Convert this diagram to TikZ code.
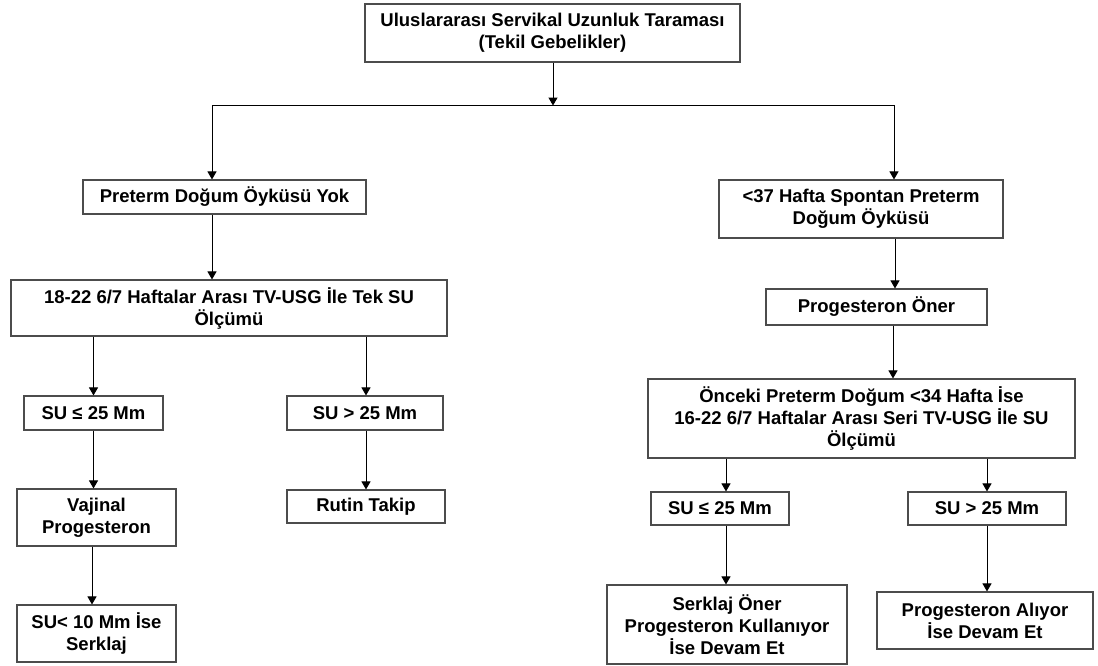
\documentclass[tikz,border=0pt]{standalone}
\usepackage{fontspec}
\setmainfont{Liberation Sans}
\usetikzlibrary{arrows.meta,calc}
\tikzset{
  box/.style={draw=black!70, line width=1.1pt, fill=white, rectangle, inner sep=0pt,
    align=center, font=\bfseries\fontsize{18.5}{22}\selectfont, text=black},
  arr/.style={draw=black, line width=1pt, -{Triangle[length=8pt,width=9pt]}},
  ln/.style={draw=black, line width=1pt}
}
\begin{document}
\begin{tikzpicture}[x=1pt,y=-1pt]
\useasboundingbox (0,0) rectangle (1098,666);
% nodes
\node[box, minimum width=375pt, minimum height=58pt] (top) at (552.5,33) {Uluslararası Servikal Uzunluk Taraması\\(Tekil Gebelikler)};
\node[box, minimum width=283pt, minimum height=34pt] (no) at (224.5,197) {Preterm Doğum Öyküsü Yok};
\node[box, minimum width=436pt, minimum height=56pt] (m1) at (229,308) {18-22 6/7 Haftalar Arası TV-USG İle Tek SU\\Ölçümü};
\node[box, minimum width=139pt, minimum height=34pt] (le1) at (93.5,413) {SU ≤ 25 Mm};
\node[box, minimum width=156pt, minimum height=34pt] (gt1) at (365,413) {SU > 25 Mm};
\node[box, minimum width=159pt, minimum height=57pt] (vaj) at (96.5,517.5) {Vajinal\\Progesteron};
\node[box, minimum width=159pt, minimum height=57pt] (ser1) at (96.5,633.5) {SU< 10 Mm İse\\Serklaj};
\node[box, minimum width=158pt, minimum height=33pt] (rutin) at (366,506.5) {Rutin Takip};
\node[box, minimum width=284pt, minimum height=58pt] (hist) at (861,209) {<37 Hafta Spontan Preterm\\Doğum Öyküsü};
\node[box, minimum width=221pt, minimum height=36pt] (prog) at (876.5,307) {Progesteron Öner};
\node[box, minimum width=427pt, minimum height=79pt] (big) at (861.5,418.5) {Önceki Preterm Doğum <34 Hafta İse\\16-22 6/7 Haftalar Arası Seri TV-USG İle SU\\Ölçümü};
\node[box, minimum width=138pt, minimum height=33pt] (le2) at (720,508.5) {SU ≤ 25 Mm};
\node[box, minimum width=158pt, minimum height=33pt] (gt2) at (987,508.5) {SU > 25 Mm};
\node[box, minimum width=240pt, minimum height=79pt] (serk2) at (727,624.5) {Serklaj Öner\\Progesteron Kullanıyor\\İse Devam Et};
\node[box, minimum width=216pt, minimum height=57pt] (palr) at (985,620.5) {Progesteron Alıyor\\İse Devam Et};
% connectors
\coordinate (split) at ($(top.south)+(0.5,43)$);
\draw[arr] ([xshift=0.5pt]top.south) -- (split);
\draw[arr] (split) -| ([xshift=-12.5pt]no.north);
\draw[arr] (split) -| ([xshift=33pt]hist.north);
\draw[arr] ([xshift=-12.5pt]no.south) -- ([xshift=-12.5pt]no.south |- m1.north);
\draw[arr] (le1.north |- m1.south) -- (le1.north);
\draw[arr] ([xshift=1pt]gt1.north |- m1.south) -- ([xshift=1pt]gt1.north);
\draw[arr] (le1.south) -- (le1.south |- vaj.north);
\draw[arr] ([xshift=-4.5pt]vaj.south) -- ([xshift=-4.5pt]ser1.north);
\draw[arr] ([xshift=1pt]gt1.south) -- (rutin.north);
\draw[arr] ([xshift=34pt]hist.south) -- ([xshift=34pt]hist.south |- prog.north);
\draw[arr] ([xshift=16.5pt]prog.south) -- ([xshift=16.5pt]prog.south |- big.north);
\draw[arr] ([xshift=6pt]le2.north |- big.south) -- ([xshift=6pt]le2.north);
\draw[arr] (gt2.north |- big.south) -- (gt2.north);
\draw[arr] ([xshift=6pt]le2.south) -- ([xshift=6pt]le2.south |- serk2.north);
\draw[arr] (gt2.south) -- (gt2.south |- palr.north);
\end{tikzpicture}
\end{document}
